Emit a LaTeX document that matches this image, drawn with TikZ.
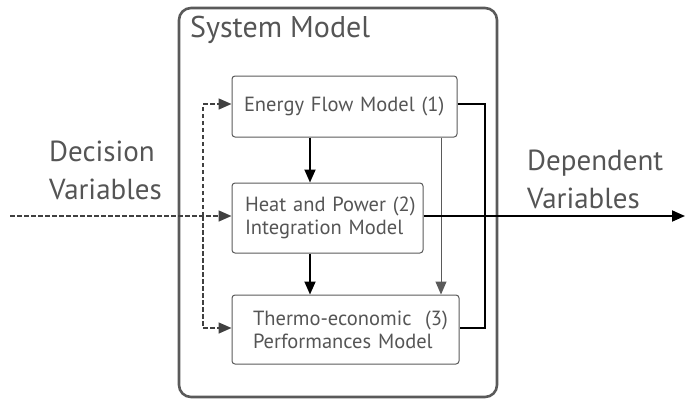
\documentclass[tikz,border=0pt]{standalone}
\usepackage{fontspec}
\setmainfont{PT Sans}
\usetikzlibrary{arrows.meta}
\usetikzlibrary{calc}

\definecolor{txtgray}{HTML}{555555}
\definecolor{boxgray}{HTML}{5A5A5A}

\begin{document}
\begin{tikzpicture}[x=1pt, y=-1pt,
	model/.style={draw=boxgray, line width=1pt, rounded corners=3pt, text=txtgray,
		font=\fontsize{20.5}{23}\selectfont, align=left, inner ysep=0pt},
	flow/.style={line width=1.8pt, -{Triangle[length=13pt,width=11pt]}},
	thin flow/.style={line width=1pt, draw=boxgray, -{Triangle[length=13pt,width=11pt]}},
	dashflow/.style={line width=1.6pt, draw=black!75, dash pattern=on 4.5pt off 2.5pt,
		-{Triangle[length=13pt,width=11pt]}},
	big/.style={text=txtgray, font=\fontsize{29}{38}\selectfont, align=left, inner sep=0pt}]
	\useasboundingbox (0,0) rectangle (685,402);

	% system boundary
	\draw[boxgray, line width=2.6pt, rounded corners=12pt] (179,8) rectangle (497,397);
	\node[big, anchor=base west, font=\fontsize{30}{36}\selectfont] (sysname) at (190,37) {System Model};

	% the three sub-models
	\node[model, inner xsep=12pt, text width=201pt, minimum height=61pt] (energy) at (344.5,106.5) {Energy Flow Model (1)};
	\node[model, inner xsep=13pt, text width=165pt, minimum height=70pt] (heat) at (327.5,218) {\mbox{Heat and Power (2)}\\Integration Model};
	\node[model, inner xsep=21pt, text width=185pt, minimum height=69pt] (thermo) at (345.5,329.5) {\mbox{Thermo-economic\ \ (3)}\\Performances Model};

	% side labels
	\node[big, anchor=west] (decvar) at (49,170) {Decision\\Variables};
	\node[big, anchor=west] (depvar) at (527,179) {Dependent\\Variables};

	% helper points
	\coordinate (dvin) at (10,216);
	\coordinate (split) at (203,216);
	\coordinate (dvout) at (685,216);
	\coordinate (fback) at (485,216);
	\coordinate (leftx) at (310,0);
	\coordinate (rightx) at (441,0);

	% decision variables into the models
	\draw[dashflow] (dvin) -- (dvin -| heat.west);
	\draw[dashflow] (split) |- ($(energy.west)+(0,-2.5)$);
	\draw[dashflow] (split) |- ($(thermo.west)+(0,-1.5)$);

	% model chain
	\draw[flow] (energy.south -| leftx) -- (heat.north -| leftx);
	\draw[flow] (heat.south -| leftx) -- (thermo.north -| leftx);
	\draw[thin flow] (energy.south -| rightx) -- (thermo.north -| rightx);

	% outputs
	\draw[line width=1.8pt] ($(energy.east)+(0,-2.5)$) -| (fback) |- ($(thermo.east)+(0,-1.5)$);
	\draw[flow] (heat.east |- dvin) -- (dvout);
\end{tikzpicture}
\end{document}
